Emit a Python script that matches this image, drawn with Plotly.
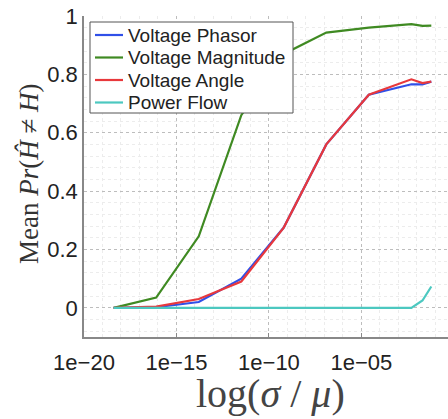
import plotly.graph_objects as go

# sigma/mu values (log-spaced samples)
x_vals = [4e-19, 8e-17, 1.6e-14, 3.2e-12, 6.3e-10, 1.26e-7, 2.5e-5, 5e-3, 2e-2, 6e-2]

series_names = ["Voltage Phasor", "Voltage Magnitude", "Voltage Angle", "Power Flow"]
voltage_phasor = [0.0, 0.002, 0.02, 0.10, 0.275, 0.56, 0.73, 0.766, 0.766, 0.775]
voltage_magnitude = [0.0, 0.035, 0.245, 0.66, 0.87, 0.943, 0.96, 0.972, 0.966, 0.967]
voltage_angle = [0.0, 0.004, 0.03, 0.09, 0.275, 0.56, 0.73, 0.783, 0.77, 0.775]
power_flow = [0.0, 0.0, 0.0, 0.0, 0.0, 0.0, 0.0, 0.0, 0.025, 0.073]

colors = ["#3050e8", "#3f8a22", "#e8383c", "#4cc8c0"]

x_tickvals = [1e-20, 1e-15, 1e-10, 1e-5]
x_ticktext = ["1e\u221220", "1e\u221215", "1e\u221210", "1e\u221205"]
y_tickvals = [0, 0.2, 0.4, 0.6, 0.8, 1.0]
y_ticktext = ["0", "0.2", "0.4", "0.6", "0.8", "1"]

W, H = 448, 419
ML, MR, MT, MB = 84, 0, 16, 82
PW, PH = W - ML - MR, H - MT - MB


def px(xpix):
    return (xpix - ML) / PW


def py(ypix):
    return (H - MB - ypix) / PH


fig = go.Figure()
for name, ys, c in zip(series_names,
                       [voltage_phasor, voltage_magnitude, voltage_angle, power_flow],
                       colors):
    fig.add_trace(go.Scatter(x=x_vals, y=ys, mode="lines", name=name,
                             line=dict(color=c, width=2.2), showlegend=False))

fig.update_layout(
    width=W, height=H,
    margin=dict(l=ML, r=MR, t=MT, b=MB),
    paper_bgcolor="white", plot_bgcolor="white",
    font=dict(family="Liberation Sans, Arial, sans-serif", color="#222"),
    xaxis=dict(
        type="log", range=[-20, -0.32],
        tickvals=x_tickvals, ticktext=x_ticktext,
        tickfont=dict(size=22, color="#222"),
        ticks="inside", ticklen=4, tickcolor="#888",
        ticklabelstandoff=5,
        showline=True, linecolor="#888", linewidth=1.5,
        showgrid=True, gridcolor="#bdbdbd", griddash="dot", gridwidth=1,
        minor=dict(dtick=1, showgrid=True, gridcolor="#ececec", gridwidth=1),
        zeroline=False,
    ),
    yaxis=dict(
        range=[-0.1, 1.0],
        tickvals=y_tickvals, ticktext=y_ticktext,
        tickfont=dict(size=22, color="#222"),
        ticks="",
        showline=True, linecolor="#888", linewidth=1.5,
        showgrid=True, gridcolor="#bdbdbd", griddash="dot", gridwidth=1,
        minor=dict(dtick=0.04, showgrid=True, gridcolor="#ececec", gridwidth=1),
        zeroline=False,
    ),
)

# Legend box (drawn to match the reference's compact MATLAB-style legend)
fig.add_shape(type="rect", xref="paper", yref="paper",
              x0=px(90), x1=px(293), y0=py(113), y1=py(22),
              fillcolor="white", line=dict(color="#555", width=1), layer="above")
legend_y = [35, 57.5, 80, 102.5]
for name, c, yy in zip(series_names, colors, legend_y):
    fig.add_shape(type="line", xref="paper", yref="paper",
                  x0=px(95), x1=px(123), y0=py(yy), y1=py(yy),
                  line=dict(color=c, width=2.2), layer="above")
    fig.add_annotation(xref="paper", yref="paper", x=px(126), y=py(yy),
                       xanchor="left", yanchor="middle", showarrow=False,
                       text=name, font=dict(size=19, color="#222"))

fig.add_annotation(
    xref="paper", yref="paper", x=px(29), y=py(174),
    xanchor="center", yanchor="middle", textangle=-90, showarrow=False,
    text="Mean <i>Pr</i>(<i>Ĥ</i> ≠ <i>H</i>)",
    font=dict(family="Liberation Serif, Times New Roman, serif", size=27, color="#333"),
)
fig.add_annotation(
    xref="paper", yref="paper", x=px(270), y=py(393),
    xanchor="center", yanchor="middle", showarrow=False,
    text="log(<i>σ</i> / <i>μ</i>)",
    font=dict(family="Liberation Serif, Times New Roman, serif", size=40, color="#444"),
)

fig.write_html("out.html", config={"displayModeBar": False},
               post_script="document.body.style.margin='0';")
